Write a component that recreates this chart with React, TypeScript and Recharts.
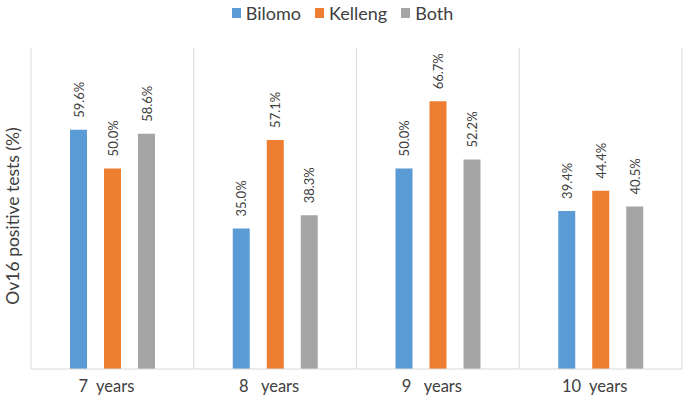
import React from 'react';
import { BarChart, Bar, XAxis, YAxis, Legend, LabelList, CartesianGrid, Label } from 'recharts';

const categories = ['7  years', '8   years', '9   years', '10  years'];
const bilomo = [59.6, 35.0, 50.0, 39.4];
const kelleng = [50.0, 57.1, 66.7, 44.4];
const both = [58.6, 38.3, 52.2, 40.5];
const boundaries = [0, 1, 2, 3, 4];

const data = categories.map((c, i) => ({ name: c, Bilomo: bilomo[i], Kelleng: kelleng[i], Both: both[i] }));

const FONT = 'Lato, "Open Sans", sans-serif';
const COLORS = { Bilomo: '#5B9BD5', Kelleng: '#ED7D31', Both: '#A5A5A5' };

const renderValue = (props: any) => {
  const { x, y, width, value } = props;
  const cx = Number(x) + Number(width) / 2 + 5;
  const cy = Number(y) - 12;
  return (
    <text
      transform={`translate(${cx}, ${cy}) rotate(-90)`}
      textAnchor="start"
      fontSize={13}
      fontFamily={FONT}
      fill="#404040"
    >
      {Number(value).toFixed(1) + '%'}
    </text>
  );
};

const Tick = (props: any) => {
  const { x, y, payload } = props;
  return (
    <text x={x - 6} y={y + 15} textAnchor="middle" fontSize={16.5} fontFamily={FONT} fill="#404040" style={{ whiteSpace: 'pre' }}>
      {payload.value}
    </text>
  );
};

const LegendContent = () => {
  const items = ['Bilomo', 'Kelleng', 'Both'] as const;
  return (
    <div style={{ display: 'flex', justifyContent: 'center', alignItems: 'center', fontFamily: FONT, fontSize: 18, color: '#404040', lineHeight: '20px' }}>
      {items.map((k) => (
        <span key={k} style={{ display: 'inline-flex', alignItems: 'center', margin: '0 7px' }}>
          <span style={{ display: 'inline-block', width: 9, height: 10, background: COLORS[k], marginRight: 5 }} />
          {k}
        </span>
      ))}
    </div>
  );
};

const boundaryGenerator = (props: any) => {
  const off = props.offset;
  return boundaries.map((b) => off.left + (b * off.width) / categories.length);
};

export default function App() {
  return (
    <div style={{ position: 'absolute', left: 0, top: 0, background: '#fff' }}>
      <BarChart width={685} height={404} data={data} margin={{ top: 28, right: 3, left: 0, bottom: 0 }} barSize={17} barGap={17}>
        <Legend verticalAlign="top" content={<LegendContent />} wrapperStyle={{ position: 'absolute', top: 3, left: 0, width: 685 }} />
        <CartesianGrid horizontal={false} vertical stroke="#d9d9d9" strokeWidth={1} verticalCoordinatesGenerator={boundaryGenerator} />
        <XAxis dataKey="name" height={35} axisLine={{ stroke: '#d9d9d9' }} tickLine={false} tick={<Tick />} interval={0} />
        <YAxis width={31} domain={[0, 80]} allowDataOverflow axisLine={false} tickLine={false} tick={false}>
          <Label
            content={() => (
              <text transform={`translate(19, 216) rotate(-90)`} textAnchor="middle" fontSize={17.5} fontFamily={FONT} fill="#404040">
                Ov16 positive tests (%)
              </text>
            )}
          />
        </YAxis>
        <Bar dataKey="Bilomo" fill={COLORS.Bilomo} isAnimationActive={false}>
          <LabelList dataKey="Bilomo" content={renderValue} />
        </Bar>
        <Bar dataKey="Kelleng" fill={COLORS.Kelleng} isAnimationActive={false}>
          <LabelList dataKey="Kelleng" content={renderValue} />
        </Bar>
        <Bar dataKey="Both" fill={COLORS.Both} isAnimationActive={false}>
          <LabelList dataKey="Both" content={renderValue} />
        </Bar>
      </BarChart>
    </div>
  );
}
